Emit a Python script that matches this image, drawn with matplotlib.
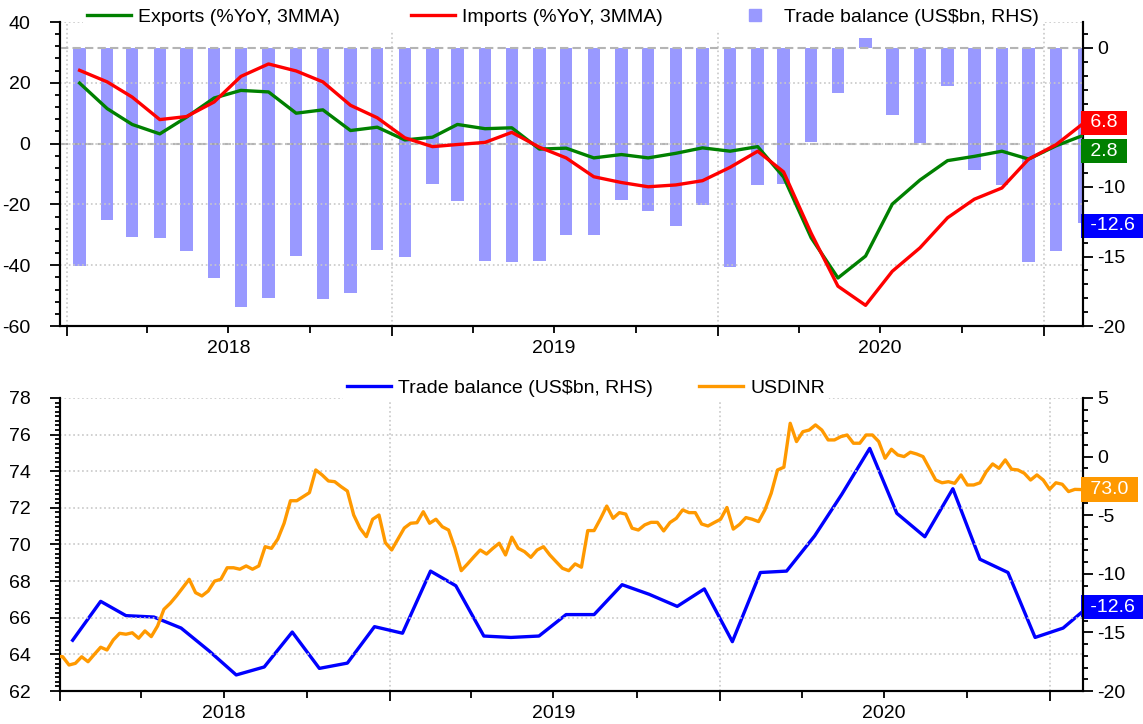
import matplotlib
matplotlib.use('Agg')
import matplotlib.pyplot as plt
import matplotlib.dates as mdates
import matplotlib.transforms as mtransforms
from matplotlib.lines import Line2D
from matplotlib.ticker import MultipleLocator, FuncFormatter, NullFormatter
import pandas as pd

plt.rcParams['font.family'] = ['Liberation Sans', 'DejaVu Sans']
plt.rcParams['axes.unicode_minus'] = False
plt.rcParams['font.size'] = 14

# monthly data, Jan 2018 - Feb 2021 (plotted mid-month)
months = pd.date_range('2018-01-01', '2021-02-01', freq='MS') + pd.Timedelta(days=14)

exports = [19.9, 11.5, 6.3, 3.2, 8.7, 15.0, 17.5, 17.0, 10.0, 11.1, 4.3, 5.4,
           1.2, 2.1, 6.3, 4.9, 5.2, -1.8, -1.5, -4.7, -3.6, -4.7, -3.2, -1.4,
           -2.5, -1.0, -11.0, -31.0, -44.2, -37.0, -19.9, -12.0, -5.6, -4.2, -2.5, -5.1,
           -0.7, 2.8]
imports = [24.1, 20.3, 15.3, 7.9, 8.9, 13.7, 22.1, 26.2, 23.9, 20.3, 12.6, 8.5,
           1.9, -1.0, -0.3, 0.4, 3.7, -1.2, -4.7, -10.9, -12.8, -14.2, -13.6, -12.2,
           -7.8, -2.5, -9.3, -29.5, -46.9, -53.2, -42.0, -34.3, -24.4, -18.3, -14.6, -5.1,
           -0.3, 6.8]
trade_balance = [-15.67, -12.35, -13.57, -13.69, -14.63, -16.58, -18.63, -17.95, -14.97, -18.07, -17.62, -14.51,
                 -15.07, -9.77, -11.02, -15.31, -15.43, -15.31, -13.48, -13.48, -10.93, -11.75, -12.78, -11.29,
                 -15.79, -9.89, -9.77, -6.77, -3.23, 0.70, -4.84, -6.84, -2.74, -8.76, -9.89, -15.43,
                 -14.63, -12.6]

# weekly USDINR
usdinr_start = '2017-12-28'
usdinr = [63.9,
          63.87, 63.42, 63.51, 63.87, 63.6, 64.0, 64.39, 64.24, 64.79, 65.15,
          65.1, 65.18, 64.88, 65.28, 64.97, 65.55, 66.46, 66.79, 67.2, 67.65,
          68.1, 67.37, 67.19, 67.46, 68.0, 68.1, 68.73, 68.73, 68.65, 68.83,
          68.65, 68.83, 69.88, 69.79, 70.3, 71.16, 72.39, 72.39, 72.61, 72.83,
          74.07, 73.8, 73.47, 73.43, 73.16, 72.92, 71.61, 70.89, 70.43, 71.38,
          71.61, 70.1, 69.7, 70.3, 70.9, 71.16, 71.19, 71.79, 71.16, 71.38,
          70.97, 70.79, 69.8, 68.57, 68.94, 69.33, 69.70, 69.48, 69.79, 70.07,
          69.43, 70.4, 69.79, 69.61, 69.30, 69.70, 69.88, 69.43, 69.06, 68.70,
          68.57, 68.94, 68.76, 70.76, 70.76, 71.4, 72.1, 71.43, 71.74, 71.66,
          70.89, 70.79, 71.07, 71.21, 71.21, 70.74, 71.2, 71.43, 71.89, 71.74,
          71.74, 71.12, 71.01, 71.2, 71.38, 72.02, 70.84, 71.10, 71.47, 71.38,
          71.25, 71.89, 72.80, 74.07, 74.22, 76.62, 75.62, 76.16, 76.25, 76.53,
          76.25, 75.71, 75.71, 75.89, 75.98, 75.53, 75.53, 75.98, 75.98, 75.62,
          74.71, 75.20, 74.89, 74.80, 75.04, 74.94, 74.80, 74.16, 73.52, 73.37,
          73.43, 73.34, 73.80, 73.25, 73.25, 73.37, 73.98, 74.40, 74.16, 74.62,
          74.11, 74.07, 73.89, 73.52, 73.80, 73.52, 73.01, 73.37, 73.29, 72.89,
          73.01, 73.0]
usdinr_dates = pd.date_range(usdinr_start, periods=len(usdinr), freq='7D')

GREEN = '#008000'
RED = '#ff0000'
BLUE = '#0000ff'
ORANGE = '#ff9900'
BAR = '#9999ff'
GRID = '#c8c8c8'
PT = 0.72  # points per pixel at 100 dpi

fig = plt.figure(figsize=(11.43, 7.24), dpi=100)


def year_label(x, pos):
    d = mdates.num2date(x)
    return str(d.year) if d.month == 7 else ''


def setup_axes(base, twin, xlim):
    base.set_xlim(pd.Timestamp(xlim[0]), pd.Timestamp(xlim[1]))
    base.yaxis.tick_right()
    base.yaxis.set_label_position('right')
    twin.yaxis.tick_left()
    twin.yaxis.set_label_position('left')
    for a in (base, twin):
        a.spines['top'].set_visible(False)
        for s in ('left', 'right', 'bottom'):
            a.spines[s].set_linewidth(1.5)
    base.xaxis.set_major_locator(mdates.YearLocator())
    base.xaxis.set_major_formatter(NullFormatter())
    base.xaxis.set_minor_locator(mdates.MonthLocator(bymonth=[4, 7, 10]))
    base.xaxis.set_minor_formatter(FuncFormatter(year_label))
    base.tick_params(axis='x', which='major', length=10 * PT, width=1.3)
    base.tick_params(axis='x', which='minor', length=7 * PT, width=1.3, pad=5, labelsize=14)
    base.tick_params(axis='y', which='major', length=10 * PT, width=1.3, pad=3, labelsize=14)
    base.tick_params(axis='y', which='minor', length=5 * PT, width=1.3)
    twin.tick_params(axis='y', which='major', length=10 * PT, width=1.3, pad=14, labelsize=14)
    twin.tick_params(axis='y', which='minor', length=5 * PT, width=1.3)
    base.grid(axis='x', which='major', linestyle=':', color=GRID, linewidth=1.2)
    twin.grid(axis='y', which='major', linestyle=':', color=GRID, linewidth=1.2)


def value_box(ax, value, color, dy=0):
    trans = mtransforms.blended_transform_factory(ax.transAxes, ax.transData)
    ax.annotate(f' {value:.1f} ', xy=(1, value), xycoords=trans,
                xytext=(1.5, dy), textcoords='offset points',
                ha='left', va='center', color='white', fontsize=14,
                bbox=dict(boxstyle='square,pad=0.2', fc=color, ec='none'),
                annotation_clip=False, zorder=20)


# ---------------- top panel ----------------
ax1 = fig.add_axes([0.05249, 0.54972, 0.89501, 0.41989])
ax1t = ax1.twinx()
setup_axes(ax1, ax1t, ('2017-12-24', '2021-02-14'))

ax1.bar(months, trade_balance, width=14, color=BAR, zorder=2)
ax1.axhline(0, color='#b4b4b4', linestyle=(0, (4, 2)), linewidth=1.5, zorder=3)
ax1.set_ylim(-20, 1.87)
ax1.yaxis.set_major_locator(MultipleLocator(5))
ax1.yaxis.set_minor_locator(MultipleLocator(1))

ax1t.axhline(0, color='#a0a0a0', linestyle=(0, (4, 2)), linewidth=1.5, alpha=0.8, zorder=1)
ax1t.plot(months, exports, color=GREEN, linewidth=2.4, zorder=3)
ax1t.plot(months, imports, color=RED, linewidth=2.4, zorder=4)
ax1t.set_ylim(-60, 40)
ax1t.yaxis.set_major_locator(MultipleLocator(20))
ax1t.yaxis.set_minor_locator(MultipleLocator(4))

value_box(ax1t, imports[-1], RED, dy=0)
value_box(ax1t, exports[-1], GREEN, dy=-11.5)
value_box(ax1, trade_balance[-1], BLUE, dy=-2)

top_handles = [Line2D([], [], color=GREEN, linewidth=2.4),
               Line2D([], [], color=RED, linewidth=2.4),
               Line2D([], [], color=BAR, marker='s', markersize=9, linestyle='none')]
top_labels = ['Exports (%YoY, 3MMA)', 'Imports (%YoY, 3MMA)', 'Trade balance (US$bn, RHS)']
fig.legend(top_handles, top_labels, loc='center', bbox_to_anchor=(0.4926, 0.9765),
           ncol=3, frameon=True, facecolor='white', edgecolor='none', framealpha=1,
           fancybox=False, handlelength=2.26, handletextpad=0.36, columnspacing=3.65,
           borderpad=0.2, fontsize=14)

# ---------------- bottom panel ----------------
ax2 = fig.add_axes([0.05249, 0.04558, 0.89501, 0.40470])
ax2t = ax2.twinx()
setup_axes(ax2, ax2t, ('2018-01-01', '2021-02-06'))

ax2.plot(months, trade_balance, color=BLUE, linewidth=2.4, zorder=3)
ax2.set_ylim(-20, 5)
ax2.yaxis.set_major_locator(MultipleLocator(5))
ax2.yaxis.set_minor_locator(MultipleLocator(1))

ax2t.plot(usdinr_dates, usdinr, color=ORANGE, linewidth=2.4, zorder=3)
ax2t.set_ylim(62, 78)
ax2t.yaxis.set_major_locator(MultipleLocator(2))
ax2t.yaxis.set_minor_locator(MultipleLocator(0.25))

value_box(ax2t, usdinr[-1], ORANGE)
value_box(ax2, trade_balance[-1], BLUE, dy=-2)

bot_handles = [Line2D([], [], color=BLUE, linewidth=2.4),
               Line2D([], [], color=ORANGE, linewidth=2.4)]
bot_labels = ['Trade balance (US$bn, RHS)', 'USDINR']
fig.legend(bot_handles, bot_labels, loc='center', bbox_to_anchor=(0.5127, 0.464),
           ncol=2, frameon=True, facecolor='white', edgecolor='none', framealpha=1,
           fancybox=False, handlelength=2.26, handletextpad=0.36, columnspacing=2.4,
           borderpad=0.2, fontsize=14)

fig.savefig('out.png', dpi=100)
